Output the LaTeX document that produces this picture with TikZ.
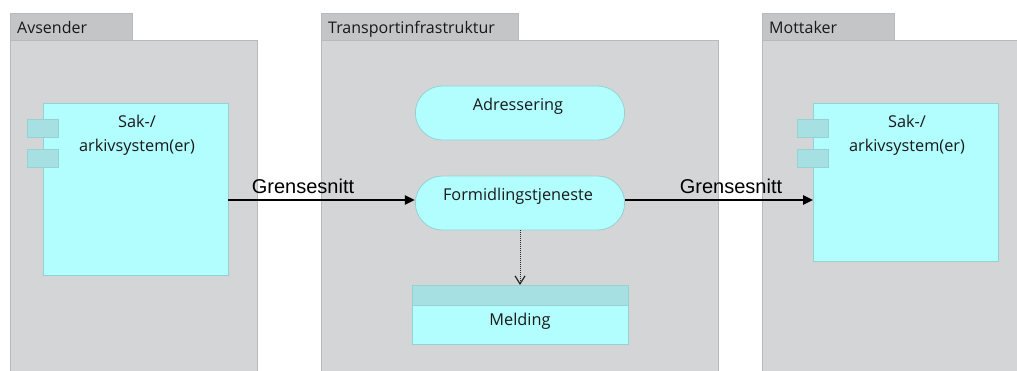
\documentclass[tikz,border=0pt]{standalone}
\usepackage{fontspec}
\setmainfont{Open Sans}
\newfontfamily\arialfont{Liberation Sans}
\usetikzlibrary{arrows.meta,shapes.misc}
\definecolor{pkgfill}{RGB}{212,213,215}
\definecolor{pkgtab}{RGB}{196,197,199}
\definecolor{pkgline}{RGB}{184,185,187}
\definecolor{cyanfill}{RGB}{178,254,254}
\definecolor{cyanline}{RGB}{150,210,210}
\definecolor{portfill}{RGB}{166,224,226}
\definecolor{txt}{RGB}{25,25,25}
\tikzset{
  x=1pt, y=-1pt,
  pkgbody/.style={draw=pkgline, fill=pkgfill, line width=0.8pt},
  pkgtabbox/.style={draw=pkgline, fill=pkgtab, line width=0.8pt},
  pkglabel/.style={anchor=base west, text=txt, font=\fontsize{16}{18}\selectfont, inner sep=0pt},
  comp/.style={draw=cyanline, fill=cyanfill, line width=0.8pt},
  port/.style={draw=cyanline, fill=portfill, line width=0.8pt},
  comptext/.style={align=center, text=txt, font=\fontsize{16.3}{24}\selectfont, inner sep=0pt},
  service/.style={rounded rectangle, draw=cyanline, fill=cyanfill, line width=0.8pt,
    minimum width=216pt, minimum height=54pt},
  servtext/.style={text=txt, font=\fontsize{16.3}{19}\selectfont, inner sep=0pt},
  flow/.style={-{Triangle[length=10pt,width=9pt]}, line width=2.4pt, black},
  flowlabel/.style={font=\arialfont\fontsize{20}{22}\selectfont, text=black, inner sep=0pt, anchor=base},
  access/.style={densely dotted, line width=1pt, -{Straight Barb[length=8pt,width=10pt,line width=1.2pt]}, black!85},
}
\begin{document}
\begin{tikzpicture}
\useasboundingbox[fill=white] (0,0) rectangle (1017,370);

% Avsender package
\draw[pkgtabbox] (10,13) rectangle (132,40);
\draw[pkgbody] (10,40) rectangle (257,372);
\node[pkglabel] (avsenderlbl) at (17,33) {Avsender};

% Transportinfrastruktur package
\draw[pkgtabbox] (321,13) rectangle (518,40);
\draw[pkgbody] (321,40) rectangle (718,372);
\node[pkglabel] (transportlbl) at (328,33) {Transportinfrastruktur};

% Mottaker package
\draw[pkgtabbox] (762,13) rectangle (894,40);
\draw[pkgbody] (762,40) rectangle (1019,372);
\node[pkglabel] (mottakerlbl) at (769,33) {Mottaker};

% Sender application component
\draw[comp] (43,103) rectangle (228,275);
\coordinate (srcR) at (228,200);
\draw[port] (27,119) rectangle (58,137);
\draw[port] (27,149) rectangle (58,167);
\node[comptext] (src) at (137,135) {Sak-/\\arkivsystem(er)};

% Receiver application component
\draw[comp] (813,103) rectangle (998,261);
\coordinate (dstL) at (813,200);
\draw[port] (797,119) rectangle (828,137);
\draw[port] (797,149) rectangle (828,167);
\node[comptext] (dst) at (907,135) {Sak-/\\arkivsystem(er)};

% Services
\node[service] (adr) at (520,113) {};
\node[servtext] (adrtxt) at (518,106) {Adressering};
\node[service] (form) at (520,203) {};
\node[servtext] (formtxt) at (518,196) {Formidlingstjeneste};

% Message data object
\draw[comp] (412,285) rectangle (628,344);
\fill[portfill] (412.4,285.4) rectangle (627.6,305);
\draw[cyanline, line width=0.8pt] (412,305) -- (628,305);
\draw[comp, fill=none] (412,285) rectangle (628,344);
\node[servtext] (melding) at (520,321) {Melding};
\coordinate (meldTop) at (520,285);

% Connectors
\draw[flow] (srcR) -- (srcR -| form.west);
\node[flowlabel] (lblL) at (303,193) {Grensesnitt};
\draw[flow] (srcR -| form.east) -- (dstL);
\node[flowlabel] (lblR) at (731,193) {Grensesnitt};
\draw[access] (form.south) -- (meldTop);
\end{tikzpicture}
\end{document}
